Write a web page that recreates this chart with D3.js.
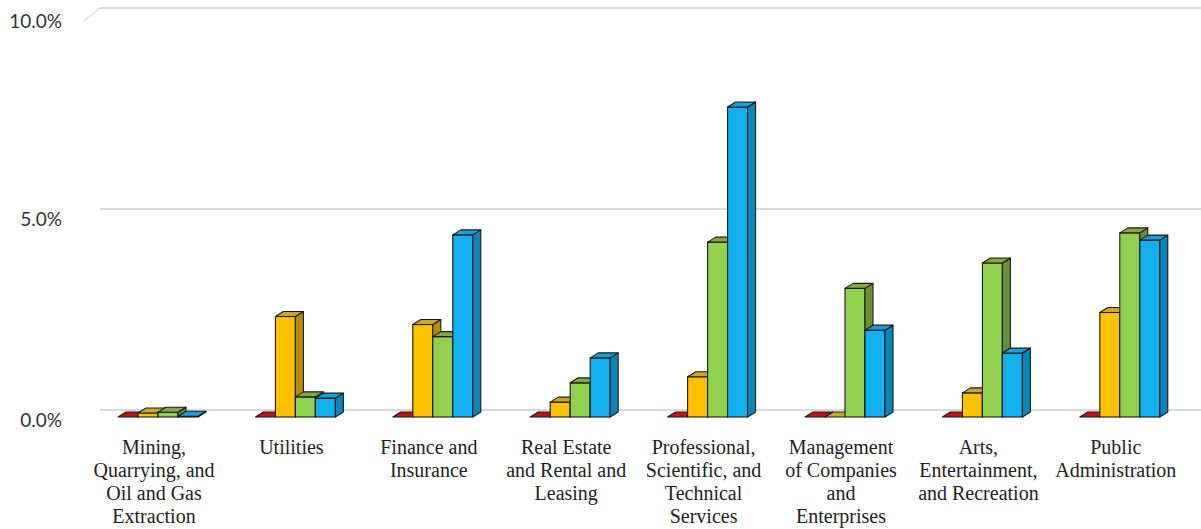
<!DOCTYPE html>
<html>
<head>
<meta charset="utf-8">
<script src="https://cdn.jsdelivr.net/npm/d3@7"></script>
<style>
  html, body { margin: 0; padding: 0; background: #fff; }
  svg { display: block; }
</style>
</head>
<body>
<svg id="chart" width="1201" height="529"></svg>
<script>
// Industry categories (each label split into its display lines)
const categories = [
  "Mining, Quarrying, and Oil and Gas Extraction",
  "Utilities",
  "Finance and Insurance",
  "Real Estate and Rental and Leasing",
  "Professional, Scientific, and Technical Services",
  "Management of Companies and Enterprises",
  "Arts, Entertainment, and Recreation",
  "Public Administration"
];
const categoryLines = [
  ["Mining,", "Quarrying, and", "Oil and Gas", "Extraction"],
  ["Utilities"],
  ["Finance and", "Insurance"],
  ["Real Estate", "and Rental and", "Leasing"],
  ["Professional,", "Scientific, and", "Technical", "Services"],
  ["Management", "of Companies", "and", "Enterprises"],
  ["Arts,", "Entertainment,", "and Recreation"],
  ["Public", "Administration"]
];

// Share (%) for the four series, in category order
const seriesRed    = [0.0, 0.0, 0.0, 0.0, 0.0, 0.0, 0.0, 0.0];
const seriesYellow = [0.1, 2.5, 2.3, 0.37, 1.0, 0.0, 0.6, 2.6];
const seriesGreen  = [0.12, 0.5, 2.0, 0.85, 4.35, 3.2, 3.83, 4.58];
const seriesBlue   = [0.02, 0.47, 4.53, 1.47, 7.71, 2.16, 1.59, 4.4];

const seriesKeys = ["red", "yellow", "green", "blue"];
const seriesValues = [seriesRed, seriesYellow, seriesGreen, seriesBlue];

// Y axis ticks
const yTicks = [0, 5, 10];
const yTickLabels = ["0.0%", "5.0%", "10.0%"];

// Face colours: front, top, side
const palette = {
  red:    { front: "#d81e1e", top: "#c0141b", side: "#9a1010" },
  yellow: { front: "#ffc000", top: "#c8a82a", side: "#b88e00" },
  green:  { front: "#92d050", top: "#86a844", side: "#6a8e34" },
  blue:   { front: "#12b0ee", top: "#1a9fd6", side: "#0a86b8" }
};

const svg = d3.select("#chart");

// 3D depth offset of each column
const depthX = 8, depthY = 5;
// The back wall (gridlines) sits behind the column fronts
const wallDX = 8, wallDY = 7;

const x0 = d3.scaleBand()
  .domain(categories)
  .range([89.3, 1188.5])
  .paddingInner(0.418)
  .paddingOuter(0.209);

const x1 = d3.scaleBand()
  .domain(seriesKeys)
  .range([0, x0.bandwidth()])
  .padding(0);

const y = d3.scaleLinear().domain([0, 10]).range([417, 15]);

// Gridlines on the back wall
const grid = svg.append("g");
grid.selectAll("line")
  .data(yTicks)
  .join("line")
  .attr("x1", 100)
  .attr("x2", 1201)
  .attr("y1", d => y(d) - wallDY)
  .attr("y2", d => y(d) - wallDY)
  .attr("stroke", "#d9d9d9")
  .attr("stroke-width", 2);

// Faint edge of the side wall at the top
grid.append("line")
  .attr("x1", 100).attr("y1", y(10) - wallDY)
  .attr("x2", 84).attr("y2", y(10) + 6)
  .attr("stroke", "#e6e6e6")
  .attr("stroke-width", 2);

// Y tick labels
svg.append("g")
  .selectAll("text")
  .data(yTicks)
  .join("text")
  .attr("x", 62)
  .attr("y", (d, i) => y(d) + (i === 2 ? 8 : 5))
  .attr("text-anchor", "end")
  .attr("dominant-baseline", "middle")
  .attr("font-family", "Lato, 'Open Sans', sans-serif")
  .attr("font-size", 19)
  .attr("fill", "#333")
  .text((d, i) => yTickLabels[i]);

// Columns
const bars = [];
categories.forEach((c, ci) => {
  seriesKeys.forEach((k, si) => {
    bars.push({ cat: c, key: k, value: seriesValues[si][ci] });
  });
});

const stroke = "#1a1a1a";
const sw = 1.1;

const groups = svg.append("g")
  .selectAll("g")
  .data(categories)
  .join("g")
  .attr("transform", d => `translate(${x0(d)},0)`);

groups.each(function (cat) {
  const g = d3.select(this);
  bars.filter(b => b.cat === cat).forEach(b => {
    const xl = x1(b.key);
    const w = x1.bandwidth();
    const xr = xl + w;
    const yb = y(0);
    const yt = y(b.value);
    const col = palette[b.key];
    if (yb - yt > 0.5) {
      // front face
      g.append("rect")
        .attr("x", xl).attr("y", yt)
        .attr("width", w).attr("height", yb - yt)
        .attr("fill", col.front)
        .attr("stroke", stroke).attr("stroke-width", sw);
      // side face
      g.append("path")
        .attr("d", `M${xr},${yt}L${xr + depthX},${yt - depthY}L${xr + depthX},${yb - depthY}L${xr},${yb}Z`)
        .attr("fill", col.side)
        .attr("stroke", stroke).attr("stroke-width", sw)
        .attr("stroke-linejoin", "round");
    }
    // top face
    g.append("path")
      .attr("d", `M${xl},${yt}L${xl + depthX},${yt - depthY}L${xr + depthX},${yt - depthY}L${xr},${yt}Z`)
      .attr("fill", col.top)
      .attr("stroke", stroke).attr("stroke-width", sw)
      .attr("stroke-linejoin", "round");
  });
});

// Category labels
const labels = svg.append("g")
  .selectAll("text")
  .data(categories)
  .join("text")
  .attr("x", d => x0(d) + x0.bandwidth() / 2 - 4)
  .attr("y", 454)
  .attr("text-anchor", "middle")
  .attr("font-family", "'Liberation Serif', 'Times New Roman', serif")
  .attr("font-size", 20)
  .attr("fill", "#222");

labels.each(function (d, i) {
  const t = d3.select(this);
  categoryLines[i].forEach((line, li) => {
    t.append("tspan")
      .attr("x", x0(d) + x0.bandwidth() / 2 - 4)
      .attr("dy", li === 0 ? 0 : 23)
      .text(line);
  });
});
</script>
</body>
</html>
